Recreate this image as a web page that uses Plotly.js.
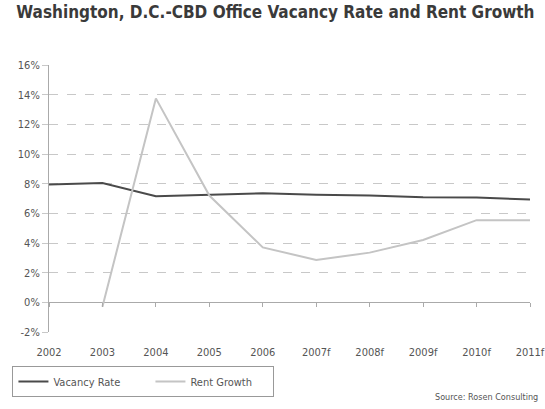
<!DOCTYPE html>
<html><head><meta charset="utf-8">
<script src="https://cdn.plot.ly/plotly-3.0.1.min.js"></script>
<style>html,body{margin:0;padding:0;background:#fff}#c{width:545px;height:409px}
.main-svg text{font-stretch:condensed !important;}</style>
</head><body><div id="c"></div>
<script>
const years = ["2002","2003","2004","2005","2006","2007f","2008f","2009f","2010f","2011f"];
const vacancyRate = [7.95, 8.05, 7.15, 7.24, 7.35, 7.26, 7.2, 7.08, 7.06, 6.93];
const rentGrowth = [null, -0.3, 13.75, 7.2, 3.7, 2.86, 3.35, 4.2, 5.54, 5.54];
const yTicks = [-2,0,2,4,6,8,10,12,14,16];
const idx = years.map((_, i) => i);
const font = "'DejaVu Sans Condensed','DejaVu Sans',sans-serif";
const nb = n => "\u00a0".repeat(n);

const traces = [
  {x: idx, y: vacancyRate, xaxis: "x2", yaxis: "y2", type: "scatter", mode: "lines",
   opacity: 0, showlegend: false, hoverinfo: "skip"},
  {x: idx, y: vacancyRate, name: "Vacancy Rate" + nb(8), type: "scatter", mode: "lines",
   line: {color: "#4a4a4a", width: 2}},
  {x: idx, y: rentGrowth, name: "Rent Growth" + nb(5), type: "scatter", mode: "lines",
   line: {color: "#c4c4c4", width: 2}, connectgaps: false}
];
const layout = {
  width: 545, height: 409,
  margin: {l: 45, r: 15, t: 65, b: 76},
  paper_bgcolor: "#fff", plot_bgcolor: "rgba(0,0,0,0)",
  font: {family: font, color: "#555", size: 11},
  title: {text: "<b>Washington, D.C.-CBD Office Vacancy Rate and Rent Growth</b>",
          x: 0.03, xanchor: "left", y: 0.985, yanchor: "top",
          font: {family: font, size: 17, color: "#3a3a3a"}},
  xaxis: {type: "linear", range: [0, 9], tickvals: idx, ticktext: years,
          showgrid: false, zeroline: false, showline: false,
          ticks: "outside", ticklen: 10, tickcolor: "rgba(0,0,0,0)",
          tickfont: {size: 11, color: "#555"}, fixedrange: true},
  xaxis2: {type: "linear", range: [0, 9], tickvals: idx, anchor: "y2", overlaying: "x",
           showgrid: false, zeroline: false, showline: false, showticklabels: false,
           ticks: "outside", ticklen: 4, tickwidth: 1, tickcolor: "#aaa", side: "bottom"},
  yaxis2: {domain: [2/18, 1], range: [0, 16], visible: false, fixedrange: true},
  yaxis: {range: [-2, 16], tickvals: yTicks, ticktext: yTicks.map(v => v + "%"),
          showgrid: true, gridcolor: "#c8c8c8", griddash: "dash", gridwidth: 1,
          zeroline: true, zerolinecolor: "#aaa", zerolinewidth: 1,
          showline: true, linecolor: "#aaa", linewidth: 1,
          ticks: "outside", ticklen: 6, tickcolor: "#c8c8c8",
          tickfont: {size: 11, color: "#555"}, fixedrange: true},
  showlegend: true,
  legend: {orientation: "h", x: -0.076, xanchor: "left", y: -0.127, yanchor: "top",
           bordercolor: "#999", borderwidth: 1, bgcolor: "#fff",
           font: {size: 11, color: "#555"}, itemwidth: 30},
  annotations: [{text: "Source: Rosen Consulting", xref: "paper", yref: "paper",
                 x: 1.02, xanchor: "right", y: -0.245, yanchor: "middle",
                 showarrow: false, font: {size: 9, color: "#555"}}]
};
Plotly.newPlot("c", traces, layout, {displayModeBar: false, staticPlot: true});
</script></body></html>
